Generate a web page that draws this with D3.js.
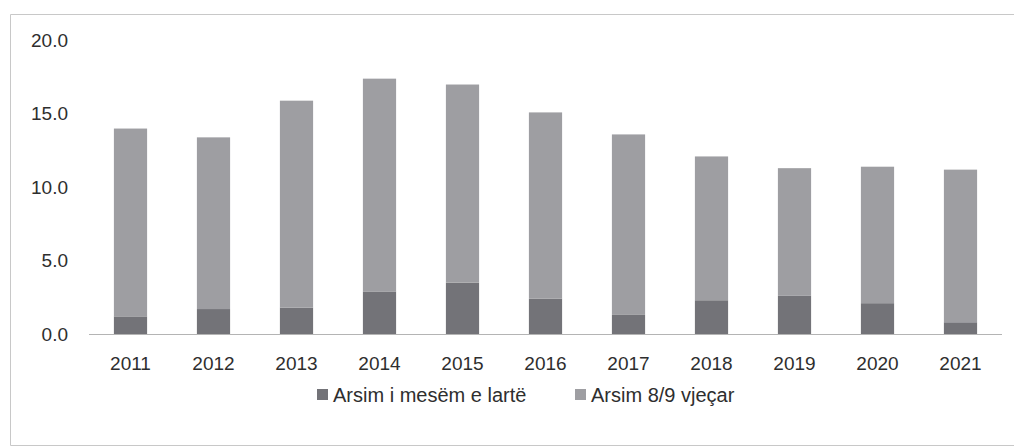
<!DOCTYPE html>
<html>
<head>
<meta charset="utf-8">
<script src="https://cdn.jsdelivr.net/npm/d3@7"></script>
<style>
  html, body { margin: 0; padding: 0; background: #fff; }
  svg { display: block; }
  text { font-family: "Liberation Sans", Arial, sans-serif; fill: #2e2e2e; }
</style>
</head>
<body>
<svg id="chart" width="1014" height="446"></svg>
<script>
const years = ["2011","2012","2013","2014","2015","2016","2017","2018","2019","2020","2021"];
const seriesNames = ["Arsim i mesëm e lartë", "Arsim 8/9 vjeçar"];
const upperSecondary = [1.2, 1.7, 1.8, 2.9, 3.5, 2.4, 1.3, 2.3, 2.6, 2.1, 0.8];
const basic89 = [12.8, 11.7, 14.1, 14.5, 13.5, 12.7, 12.3, 9.8, 8.7, 9.3, 10.4];
const yTicks = [0, 5, 10, 15, 20];
const colors = ["#737378", "#9e9ea2"];

const svg = d3.select("#chart");

// frame
svg.append("path")
  .attr("d", "M1014,14.5 H10.5 V445.5 H1014")
  .attr("fill", "none").attr("stroke", "#c8c8c8").attr("stroke-width", 1);

const x = d3.scaleBand().domain(years).range([89, 1002]).paddingInner(0.6).paddingOuter(0.3);
const y = d3.scaleLinear().domain([0, 20]).range([334, 40.5]);

const rows = years.map((yr, i) => ({year: yr, a: upperSecondary[i], b: basic89[i]}));
const stack = d3.stack().keys(["a", "b"])(rows);

svg.append("g").selectAll("g").data(stack).join("g")
  .attr("fill", (d, i) => colors[i])
  .selectAll("rect").data(d => d).join("rect")
  .attr("x", d => x(d.data.year))
  .attr("width", x.bandwidth())
  .attr("y", d => y(d[1]))
  .attr("height", d => y(d[0]) - y(d[1]));

// baseline
svg.append("line")
  .attr("x1", 89).attr("x2", 1002)
  .attr("y1", y(0) + 0.5).attr("y2", y(0) + 0.5)
  .attr("stroke", "#b4b4b4").attr("stroke-width", 1);

// y axis
const yAxis = d3.axisLeft(y).tickValues(yTicks).tickFormat(d3.format(".1f")).tickSize(0).tickPadding(0);
const gy = svg.append("g").attr("transform", "translate(68,0)").call(yAxis);
gy.select(".domain").remove();
gy.selectAll("text").style("font-size", "19px").attr("fill", "#2e2e2e")
  .style("font-family", "'Liberation Sans', Arial, sans-serif");

// x axis
const xAxis = d3.axisBottom(x).tickSize(0).tickPadding(0);
const gx = svg.append("g").attr("transform", `translate(0,${y(0) + 22})`).call(xAxis);
gx.select(".domain").remove();
gx.selectAll("text").style("font-size", "19px").attr("fill", "#2e2e2e")
  .style("font-family", "'Liberation Sans', Arial, sans-serif");

// legend
const legendX = [317, 575];
const legendY = 395;
const lg = svg.append("g");
seriesNames.forEach((name, i) => {
  lg.append("rect").attr("x", legendX[i]).attr("y", legendY - 6).attr("width", 11).attr("height", 11)
    .attr("fill", colors[i]);
  lg.append("text").attr("x", legendX[i] + 16).attr("y", legendY).attr("dy", "0.35em")
    .style("font-size", "20px").text(name);
});
</script>
</body>
</html>
